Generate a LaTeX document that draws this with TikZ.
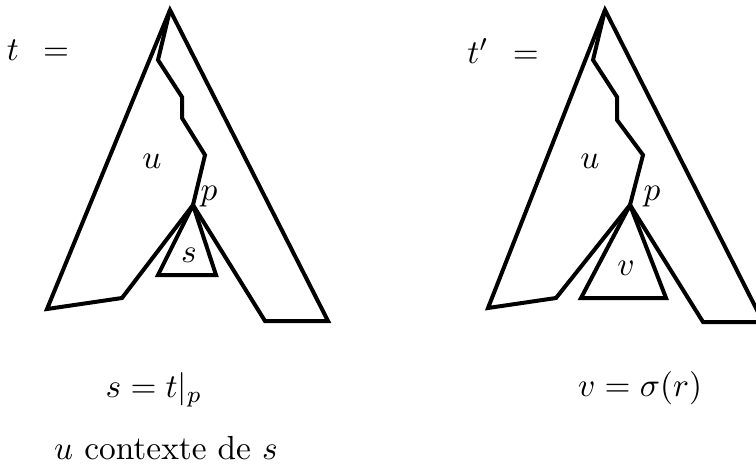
\documentclass[tikz,border=0pt]{standalone}
\usepackage{amsmath,amssymb}
\usepackage{tikz}

\begin{document}
\begin{tikzpicture}[x=0.3pt,y=-0.3pt]
\tikzstyle{tline}=[line width=1.2pt, line join=miter]
\tikzstyle{lbl}=[inner sep=0pt, font=\normalsize]
\useasboundingbox (0,0) rectangle (756,464);
\clip (0,0) rectangle (756,464);
\coordinate (tA) at (170,10);
\coordinate (tP) at (193,205);
\coordinate (tBL) at (47,309);
\coordinate (tBM) at (122,298);
\coordinate (tBI) at (265,321);
\coordinate (tBR) at (328,321);
\draw[tline] (tA) -- (tBL) -- (tBM) -- (tP) -- (tBI) -- (tBR) -- cycle;
\draw[tline] (tA) -- (158,60) -- (182,97) -- (182,118) -- (205,155) -- (tP);
\draw[tline] (tP) -- (158,275) -- (216,275) -- cycle;
\node[lbl] (teq) at (38,50) {$t\;\,=$};
\node[lbl] (tu) at (152,161) {$u$};
\node[lbl] (tp) at (209,197) {$p$};
\node[lbl] (ts) at (189,255) {$s$};
\coordinate (rA) at (605,10);
\coordinate (rP) at (630,205);
\coordinate (rBL) at (488,308);
\coordinate (rBM) at (556,298);
\coordinate (rBI) at (703,322);
\coordinate (rBR) at (763,322);
\draw[tline] (rA) -- (rBL) -- (rBM) -- (rP) -- (rBI) -- (rBR) -- cycle;
\draw[tline] (rA) -- (593,60) -- (617,97) -- (617,120) -- (643,155) -- (rP);
\draw[tline] (rP) -- (581,298) -- (666,298) -- cycle;
\node[lbl] (req) at (503,51) {$t'\;\,=$};
\node[lbl] (ru) at (590,161) {$u$};
\node[lbl] (rp) at (652,197) {$p$};
\node[lbl] (rv) at (626,268) {$v$};
\node[lbl] (seq) at (154,390) {$s=t|_p$};
\node[lbl] (ctx) at (166,448) {$u$ contexte de $s$};
\node[lbl] (veq) at (640,388) {$v=\sigma(r)$};
\end{tikzpicture}
\end{document}
